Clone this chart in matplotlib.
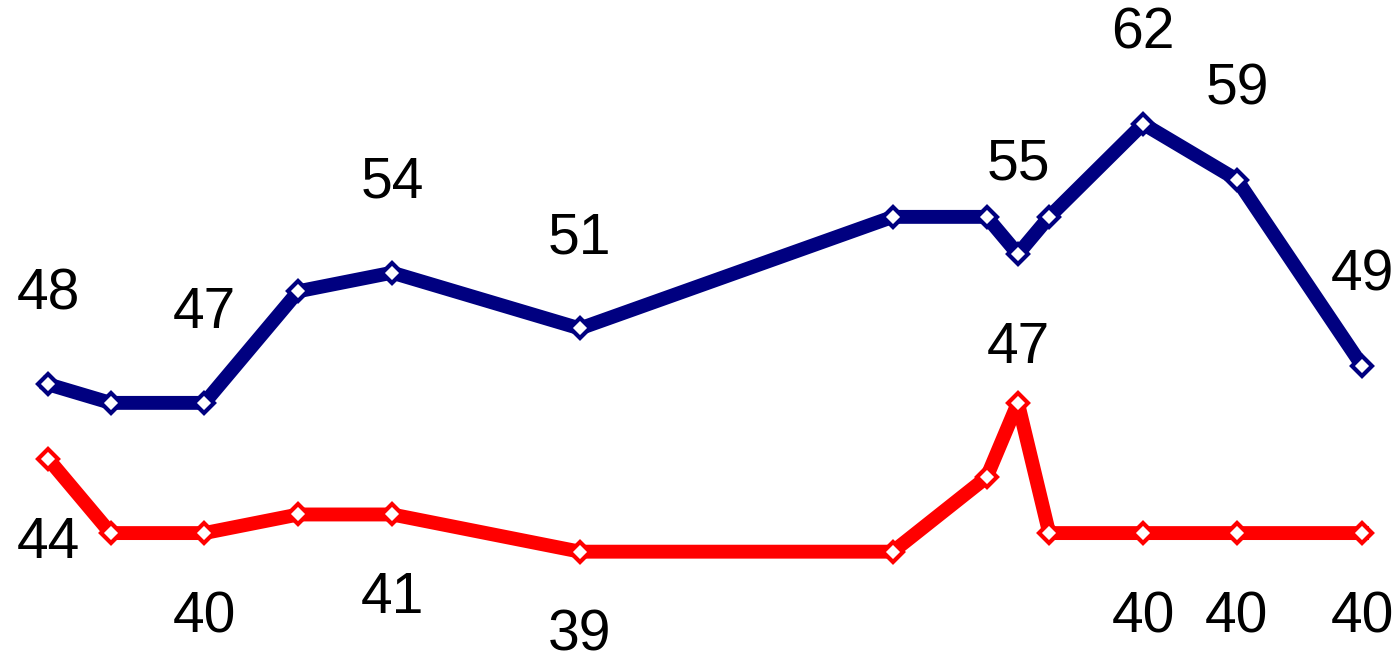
import matplotlib
matplotlib.use("Agg")
import matplotlib.pyplot as plt

plt.rcParams["font.family"] = ["Liberation Sans", "DejaVu Sans"]

# months since the first poll
months = [0, 2, 5, 8, 11, 17, 27, 30, 31, 32, 35, 38, 42]
blue_vals = [48, 47, 47, 53, 54, 51, 57, 57, 55, 57, 62, 59, 49]
red_vals = [44, 40, 40, 41, 41, 39, 39, 43, 47, 40, 40, 40, 40]

# which points carry a label: (index, offset in px, positive = above)
blue_labels = [0, 2, 4, 5, 8, 10, 11, 12]
red_labels = [(0, -84), (2, -84), (4, -84), (5, -84), (8, 55),
              (10, -84), (11, -84), (12, -84)]

BLUE = "#000080"
RED = "#ff0000"

fig = plt.figure(figsize=(13.99, 6.59), dpi=100)
ax = fig.add_axes([0, 0, 1, 1])
ax.set_axis_off()
ax.set_xlim(-1.534, 43.18)
ax.set_ylim(33.23, 68.66)

style = dict(linewidth=10, marker="D", markersize=10.5, markerfacecolor="white",
             markeredgewidth=3, solid_joinstyle="round", zorder=3)
ax.plot(months, blue_vals, color=BLUE, markeredgecolor=BLUE, **style)
ax.plot(months, red_vals, color=RED, markeredgecolor=RED, **style)

px = 0.72  # points per pixel at dpi 100
for i in blue_labels:
    ax.annotate(str(blue_vals[i]), (months[i], blue_vals[i]),
                xytext=(0, 90 * px), textcoords="offset points",
                ha="center", va="center", fontsize=41, color="black")
for i, off in red_labels:
    ax.annotate(str(red_vals[i]), (months[i], red_vals[i]),
                xytext=(0, off * px), textcoords="offset points",
                ha="center", va="center", fontsize=41, color="black")

fig.savefig("out.png", dpi=100)
